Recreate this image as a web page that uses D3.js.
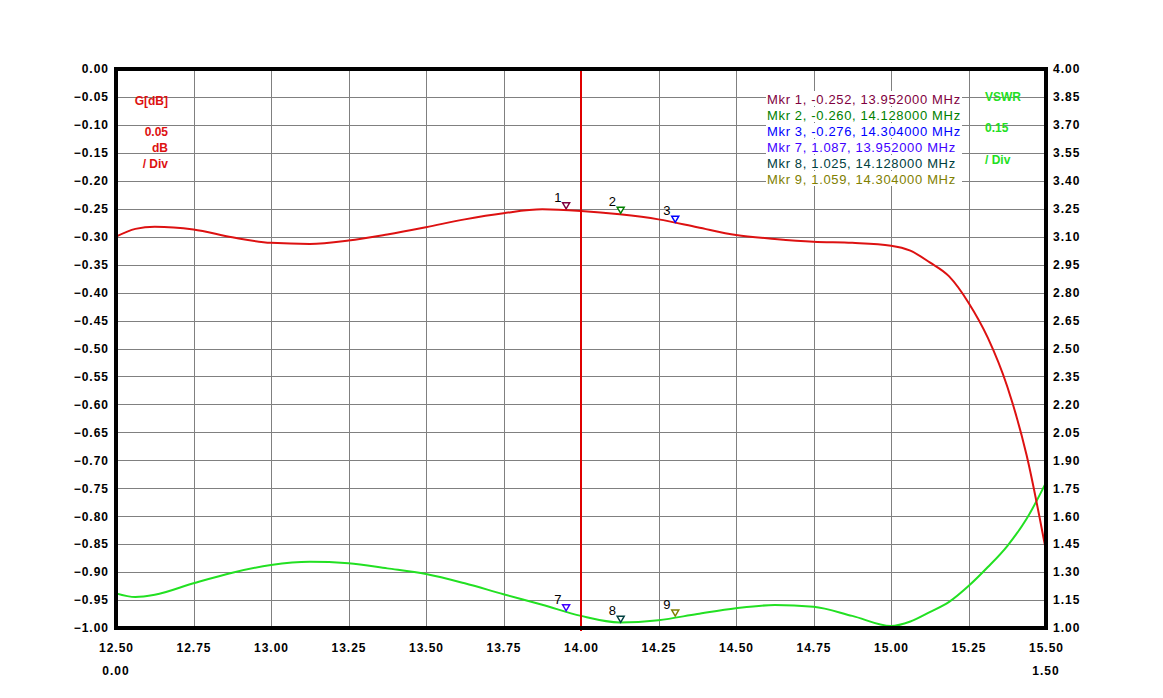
<!DOCTYPE html>
<html>
<head>
  <meta charset="utf-8">
  <script src="https://d3js.org/d3.v7.min.js"></script>
  <style>
    body { margin: 0; background: #fff; }
    svg { display: block; }
    .axlbl { font-family: "Liberation Sans", Arial, sans-serif; font-size: 12px; font-weight: bold; letter-spacing: 1px; fill: #000; }
    .mkrtxt { font-family: "Liberation Sans", Arial, sans-serif; font-size: 13px; letter-spacing: 0.65px; }
    .side { font-family: "Liberation Sans", Arial, sans-serif; font-size: 12px; font-weight: bold; }
  </style>
</head>
<body>
<svg width="1163" height="698"></svg>
<script>
// sweep data
var freqs = [12.5, 12.5625, 12.625, 12.75, 12.875, 13.0, 13.125, 13.25, 13.375, 13.5, 13.625, 13.75,
             13.875, 14.0, 14.125, 14.25, 14.375, 14.5, 14.625, 14.75, 14.875, 15.0, 15.0625,
             15.125, 15.1875, 15.25, 15.3125, 15.375, 15.4375, 15.5];
var gainDb = [-0.300, -0.286, -0.282, -0.287, -0.301, -0.311, -0.313, -0.307, -0.296, -0.283, -0.269, -0.258,
              -0.251, -0.254, -0.260, -0.269, -0.283, -0.297, -0.304, -0.309, -0.311, -0.316, -0.325,
              -0.346, -0.371, -0.418, -0.481, -0.568, -0.691, -0.862];
var vswr = [1.186, 1.166, 1.178, 1.240, 1.297, 1.338, 1.355, 1.347, 1.320, 1.290, 1.240, 1.181,
            1.125, 1.065, 1.030, 1.042, 1.075, 1.106, 1.123, 1.114, 1.065, 1.011, 1.035,
            1.085, 1.140, 1.225, 1.327, 1.440, 1.586, 1.780];

// markers
var mkrNums = [1, 2, 3, 7, 8, 9];
var mkrFreqs = [13.952, 14.128, 14.304, 13.952, 14.128, 14.304];
var mkrVals = [-0.252, -0.260, -0.276, 1.087, 1.025, 1.059];
var mkrTrace = ["g", "g", "g", "v", "v", "v"];
var mkrColors = ["#800040", "#008000", "#0000ff", "#4000ff", "#004040", "#808000"];

// axis ticks
var xTicks = d3.range(0, 13).map(function(i) { return 12.5 + i * 0.25; });
var yLeftTicks = d3.range(0, 21).map(function(i) { return -i * 0.05; });
var yRightTicks = d3.range(0, 21).map(function(i) { return 1 + i * 0.15; });
var spanLabels = ["0.00", "1.50"];
var cursorFreq = 14.0;

var svg = d3.select("svg"),
    margin = {top: 69, right: 117, bottom: 70, left: 116},
    width = 1163 - margin.left - margin.right,
    height = 698 - margin.top - margin.bottom,
    g = svg.append("g").attr("transform", "translate(" + margin.left + "," + margin.top + ")");

var x = d3.scaleLinear().domain([12.5, 15.5]).range([0, width]);
var yL = d3.scaleLinear().domain([-1, 0]).range([height, 0]);
var yR = d3.scaleLinear().domain([1, 4]).range([height, 0]);

// grid
g.append("g")
  .selectAll("line")
  .data(xTicks).enter().append("line")
    .attr("x1", function(d) { return Math.round(x(d)) + 0.5; }).attr("x2", function(d) { return Math.round(x(d)) + 0.5; })
    .attr("y1", 0).attr("y2", height)
    .attr("stroke", "#808080").attr("stroke-width", 1);
g.append("g")
  .selectAll("line")
  .data(yLeftTicks).enter().append("line")
    .attr("x1", 0).attr("x2", width)
    .attr("y1", function(d) { return Math.round(yL(d)) + 0.5; }).attr("y2", function(d) { return Math.round(yL(d)) + 0.5; })
    .attr("stroke", "#808080").attr("stroke-width", 1);

// axes (labels only)
g.append("g")
  .call(d3.axisLeft(yL).tickValues(yLeftTicks).tickFormat(d3.format(".2f")).tickSize(0).tickPadding(7))
  .call(function(a) { a.select(".domain").remove(); });
g.append("g")
  .attr("transform", "translate(" + width + ",0)")
  .call(d3.axisRight(yR).tickValues(yRightTicks).tickFormat(d3.format(".2f")).tickSize(0).tickPadding(7))
  .call(function(a) { a.select(".domain").remove(); });
g.append("g")
  .attr("transform", "translate(0," + height + ")")
  .call(d3.axisBottom(x).tickValues(xTicks).tickFormat(d3.format(".2f")).tickSize(0).tickPadding(15))
  .call(function(a) { a.select(".domain").remove(); });

g.selectAll(".tick text")
  .style("font-family", "'Liberation Sans', Arial, sans-serif")
  .style("font-size", "12px").style("font-weight", "bold").style("letter-spacing", "1px").attr("fill", "#000");

g.selectAll("text.span")
  .data(spanLabels).enter().append("text")
    .attr("class", "axlbl")
    .attr("x", function(d, i) { return x(i == 0 ? 12.5 : 15.5); })
    .attr("y", height + 47)
    .attr("text-anchor", "middle")
    .text(function(d) { return d; });

// traces
var lineG = d3.line()
  .x(function(d, i) { return x(freqs[i]); })
  .y(function(d) { return yL(d); })
  .curve(d3.curveMonotoneX);
var lineV = d3.line()
  .x(function(d, i) { return x(freqs[i]); })
  .y(function(d) { return yR(d); })
  .curve(d3.curveMonotoneX);

g.append("path").datum(vswr)
  .attr("d", lineV).attr("fill", "none")
  .attr("stroke", "#22e022").attr("stroke-width", 2);
g.append("path").datum(gainDb)
  .attr("d", lineG).attr("fill", "none")
  .attr("stroke", "#dd1111").attr("stroke-width", 2);

// cursor line
g.append("line")
  .attr("x1", x(cursorFreq)).attr("x2", x(cursorFreq))
  .attr("y1", 0).attr("y2", height + 3)
  .attr("stroke", "#e00000").attr("stroke-width", 2);

// frame
g.append("rect")
  .attr("x", 0).attr("y", 0).attr("width", width).attr("height", height)
  .attr("fill", "none").attr("stroke", "#000").attr("stroke-width", 4);

// marker triangles and numbers
var mk = g.append("g").selectAll("g")
  .data(mkrNums).enter().append("g")
    .attr("transform", function(d, i) {
      var yy = mkrTrace[i] == "g" ? yL(mkrVals[i]) : yR(mkrVals[i]);
      return "translate(" + x(mkrFreqs[i]) + "," + yy + ")";
    });
mk.append("path")
  .attr("d", "M-3.5,-7 L3.5,-7 L0,-1 Z")
  .attr("fill", "#fff")
  .attr("stroke", function(d, i) { return mkrColors[i]; })
  .attr("stroke-width", 1.5);
mk.append("text")
  .attr("class", "mkrtxt")
  .attr("x", -8).attr("y", -8)
  .attr("text-anchor", "middle")
  .attr("fill", "#000")
  .text(function(d) { return d; });

// marker readout
var rd = svg.append("g").selectAll("g")
  .data(mkrNums).enter().append("g")
    .attr("transform", function(d, i) { return "translate(767," + (99 + i * 16) + ")"; });
rd.append("rect")
  .attr("x", -1).attr("y", -8).attr("width", 196).attr("height", 15)
  .attr("fill", "#fff");
rd.append("text")
  .attr("class", "mkrtxt")
  .attr("dy", "0.35em")
  .attr("fill", function(d, i) { return mkrColors[i]; })
  .text(function(d, i) {
    return "Mkr " + d + ", " + mkrVals[i].toFixed(3) + ", " + mkrFreqs[i].toFixed(6) + " MHz";
  });

// scale captions
var leftCap = ["G[dB]", "0.05", "dB", "/ Div"];
var leftCapY = [101, 132, 148, 164];
svg.append("g").selectAll("text")
  .data(leftCap).enter().append("text")
    .attr("class", "side")
    .attr("x", 168)
    .attr("y", function(d, i) { return leftCapY[i]; })
    .attr("dy", "0.35em")
    .attr("text-anchor", "end")
    .attr("fill", "#dd1111")
    .text(function(d) { return d; });

var rightCap = ["VSWR", "0.15", "/ Div"];
var rightCapY = [97, 128, 160];
svg.append("g").selectAll("text")
  .data(rightCap).enter().append("text")
    .attr("class", "side")
    .attr("x", 985)
    .attr("y", function(d, i) { return rightCapY[i]; })
    .attr("dy", "0.35em")
    .attr("fill", "#22e022")
    .text(function(d) { return d; });
</script>
</body>
</html>
